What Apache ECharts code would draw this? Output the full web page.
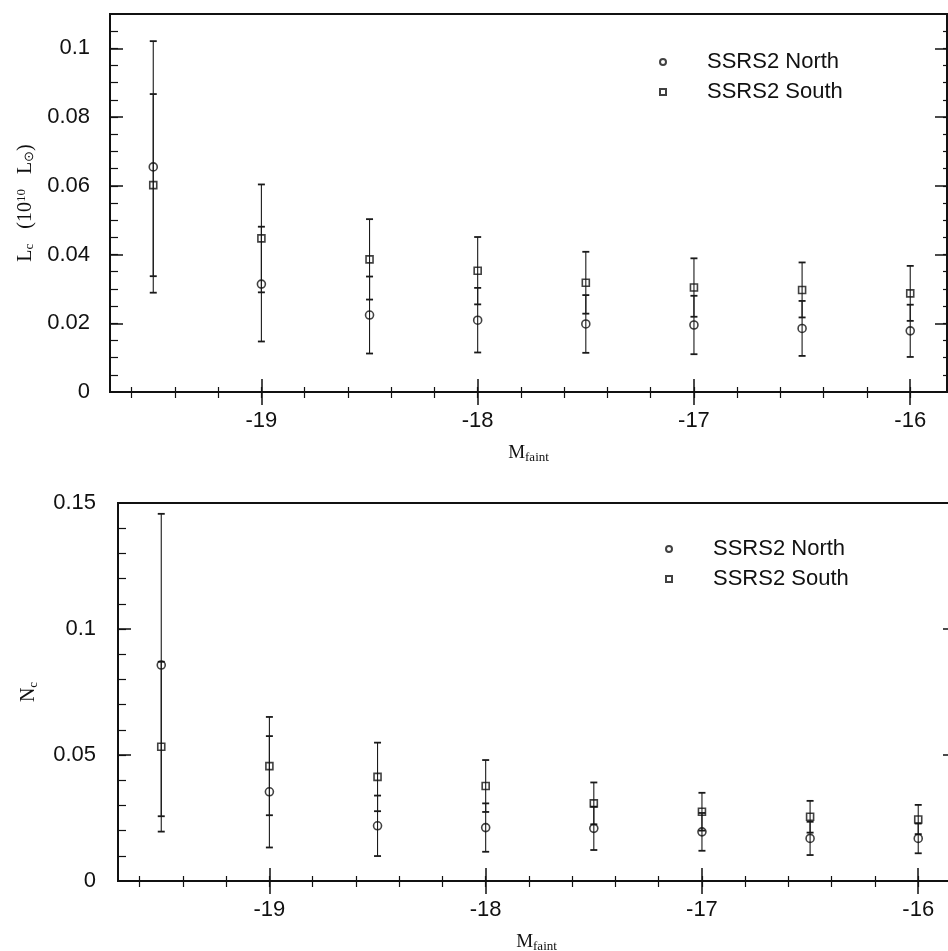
<!DOCTYPE html>
<html><head><meta charset="utf-8">
<script src="https://cdn.jsdelivr.net/npm/echarts@6/dist/echarts.min.js"></script>
<style>html,body{margin:0;padding:0;background:#fff}#c{width:948px;height:951px}</style>
</head><body><div id="c"></div>
<script>
// ---- data ----
const magFaint = [-19.5, -19, -18.5, -18, -17.5, -17, -16.5, -16];

// top panel: luminosity L_c (10^10 L_sun)
const lumNorth    = [0.0655, 0.0314, 0.0224, 0.0209, 0.0198, 0.0195, 0.0185, 0.0178];
const lumNorthErr = [0.0366, 0.0167, 0.0112, 0.0094, 0.0084, 0.0085, 0.0080, 0.0076];
const lumSouth    = [0.0602, 0.0447, 0.0386, 0.0353, 0.0318, 0.0304, 0.0297, 0.0287];
const lumSouthErr = [0.0265, 0.0157, 0.0117, 0.0098, 0.0090, 0.0085, 0.0080, 0.0080];

// bottom panel: number N_c
const numNorth    = [0.0857, 0.0354, 0.0219, 0.0212, 0.0209, 0.0195, 0.0169, 0.0169];
const numNorthErr = [0.0600, 0.0221, 0.0120, 0.0096, 0.0086, 0.0075, 0.0066, 0.0059];
const numSouth    = [0.0533, 0.0456, 0.0413, 0.0377, 0.0308, 0.0275, 0.0255, 0.0244];
const numSouthErr = [0.0337, 0.0195, 0.0136, 0.0103, 0.0083, 0.0075, 0.0063, 0.0058];

// ticks
const xMajorTicks   = [-19, -18, -17, -16];
const lumMajorTicks = [0, 0.02, 0.04, 0.06, 0.08, 0.1];
const numMajorTicks = [0, 0.05, 0.1, 0.15];
const seriesNames   = ['SSRS2 North', 'SSRS2 South'];

function steps(from, to, step) {
  const out = [];
  const n = Math.round((to - from) / step);
  for (let i = 0; i <= n; i++) out.push(+(from + i * step).toFixed(6));
  return out;
}
const xMinorTicks   = steps(-19.6, -15.8, 0.2);
const lumMinorTicks = steps(0.005, 0.105, 0.005);
const numMinorTicks = steps(0.01, 0.14, 0.01);

const X_MIN = -19.7, X_MAX = -15.83;
const INK = '#111';
const SANS = '"Liberation Sans", Arial, Helvetica, sans-serif';
const SERIF = '"Liberation Serif", "Times New Roman", serif';

const grids = [
  {left: 110, top: 14, width: 837, height: 378, show: true, borderColor: INK, borderWidth: 2, backgroundColor: 'transparent', outerBoundsMode: 'none', containLabel: false},
  {left: 118, top: 503, width: 837, height: 378, show: true, borderColor: INK, borderWidth: 2, backgroundColor: 'transparent', outerBoundsMode: 'none', containLabel: false}
];

function xAxes(g) {
  const base = {type: 'value', gridIndex: g, min: X_MIN, max: X_MAX, axisLine: {show: false}, splitLine: {show: false}};
  return [
    Object.assign({}, base, {
      position: 'bottom',
      axisTick: {inside: true, length: 13, customValues: xMajorTicks, lineStyle: {color: INK, width: 1.5}},
      axisLabel: {customValues: xMajorTicks, fontSize: 22, fontFamily: SANS, color: INK, margin: 18},
      name: '{m|M}{s|faint}', nameLocation: 'middle', nameGap: 52,
      nameTextStyle: {color: INK, rich: {
        m: {fontSize: 19, fontFamily: SERIF, lineHeight: 20, verticalAlign: 'top', color: INK},
        s: {fontSize: 13, fontFamily: SERIF, lineHeight: 15, verticalAlign: 'bottom', color: INK}
      }}
    }),
    Object.assign({}, base, {position: 'bottom', axisTick: {inside: true, length: 5, customValues: xMinorTicks, lineStyle: {color: INK, width: 1.2}}, axisLabel: {show: false}}),
    Object.assign({}, base, {position: 'top', axisTick: {inside: true, length: 13, customValues: xMajorTicks, lineStyle: {color: INK, width: 1.5}}, axisLabel: {show: false}}),
    Object.assign({}, base, {position: 'top', axisTick: {inside: true, length: 6, customValues: xMinorTicks, lineStyle: {color: INK, width: 1.2}}, axisLabel: {show: false}})
  ];
}

function yAxes(g, max, majors, minors, name, rich, gap, margin) {
  const base = {type: 'value', gridIndex: g, min: 0, max: max, axisLine: {show: false}, splitLine: {show: false}};
  return [
    Object.assign({}, base, {
      position: 'left',
      axisTick: {inside: true, length: 13, customValues: majors, lineStyle: {color: INK, width: 1.5}},
      axisLabel: {customValues: majors, fontSize: 22, fontFamily: SANS, color: INK, margin: margin, padding: [10, 0, 0, 0]},
      name: name, nameLocation: 'middle', nameGap: gap,
      nameTextStyle: {color: INK, rich: rich}
    }),
    Object.assign({}, base, {position: 'left', axisTick: {inside: true, length: 8, customValues: minors, lineStyle: {color: INK, width: 1.2}}, axisLabel: {show: false}}),
    Object.assign({}, base, {position: 'right', axisTick: {inside: true, length: 12, customValues: majors, lineStyle: {color: INK, width: 1.5}}, axisLabel: {show: false}}),
    Object.assign({}, base, {position: 'right', axisTick: {inside: true, length: 4, customValues: minors, lineStyle: {color: INK, width: 1.2}}, axisLabel: {show: false}})
  ];
}

const mainTok = {fontSize: 20, fontFamily: SERIF, lineHeight: 21, verticalAlign: 'top', color: INK};
const subTok  = {fontSize: 13, fontFamily: SERIF, lineHeight: 15, verticalAlign: 'bottom', color: INK};
const supTok  = {fontSize: 13, fontFamily: SERIF, lineHeight: 13, verticalAlign: 'top', color: INK};

const lumName = '{a|L}{b|c}{a|   (10}{c|10}{a|   L}{b|\u2299}{a|)}';
const numName = '{a|N}{b|c}';

function errRender(params, api) {
  const x = api.value(0), y = api.value(1), e = api.value(2);
  const lo = api.coord([x, y - e]);
  const hi = api.coord([x, y + e]);
  const w = 3.5;
  const ls = {stroke: '#1a1a1a', lineWidth: 1.1};
  const cs = {stroke: '#1a1a1a', lineWidth: 1.8};
  return {type: 'group', children: [
    {type: 'line', shape: {x1: lo[0], y1: lo[1], x2: hi[0], y2: hi[1]}, style: ls},
    {type: 'line', shape: {x1: lo[0] - w, y1: lo[1], x2: lo[0] + w, y2: lo[1]}, style: cs},
    {type: 'line', shape: {x1: hi[0] - w, y1: hi[1], x2: hi[0] + w, y2: hi[1]}, style: cs}
  ]};
}

function makeSeries(g, vals, errs, name, symbol, size) {
  const axIdx = g * 4;
  const errData = magFaint.map((m, i) => [m, vals[i], errs[i]]);
  const ptData = magFaint.map((m, i) => [m, vals[i]]);
  return [
    {type: 'custom', name: name + ' error', xAxisIndex: axIdx, yAxisIndex: axIdx,
     renderItem: errRender, data: errData, encode: {x: 0, y: 1}, silent: true, z: 2},
    {type: 'scatter', name: name, xAxisIndex: axIdx, yAxisIndex: axIdx, data: ptData,
     symbol: symbol, symbolSize: size, z: 3,
     itemStyle: {color: 'rgba(255,255,255,0)', borderColor: INK, borderWidth: 1.6}}
  ];
}

const legendBase = {
  orient: 'vertical', itemWidth: 6, itemHeight: 6, itemGap: 8, data: seriesNames,
  selectedMode: false,
  textStyle: {fontSize: 22, fontFamily: SANS, color: INK, lineHeight: 22, padding: [0, 0, 0, 36]}
};

const option = {
  backgroundColor: '#fff',
  animation: false,
  grid: grids,
  legend: [
    Object.assign({}, legendBase, {left: 654, top: 46}),
    Object.assign({}, legendBase, {left: 660, top: 533})
  ],
  xAxis: [].concat(xAxes(0), xAxes(1)),
  yAxis: [].concat(
    yAxes(0, 0.11, lumMajorTicks, lumMinorTicks, lumName, {a: mainTok, b: subTok, c: supTok}, 70, 20),
    yAxes(1, 0.15, numMajorTicks, numMinorTicks, numName, {a: mainTok, b: subTok}, 78, 22)
  ),
  series: [].concat(
    makeSeries(0, lumNorth, lumNorthErr, seriesNames[0], 'circle', 8),
    makeSeries(0, lumSouth, lumSouthErr, seriesNames[1], 'rect', 7),
    makeSeries(1, numNorth, numNorthErr, seriesNames[0], 'circle', 8),
    makeSeries(1, numSouth, numSouthErr, seriesNames[1], 'rect', 7)
  )
};

const chart = echarts.init(document.getElementById('c'), null, {renderer: 'canvas'});
chart.setOption(option);
</script>
</body></html>
